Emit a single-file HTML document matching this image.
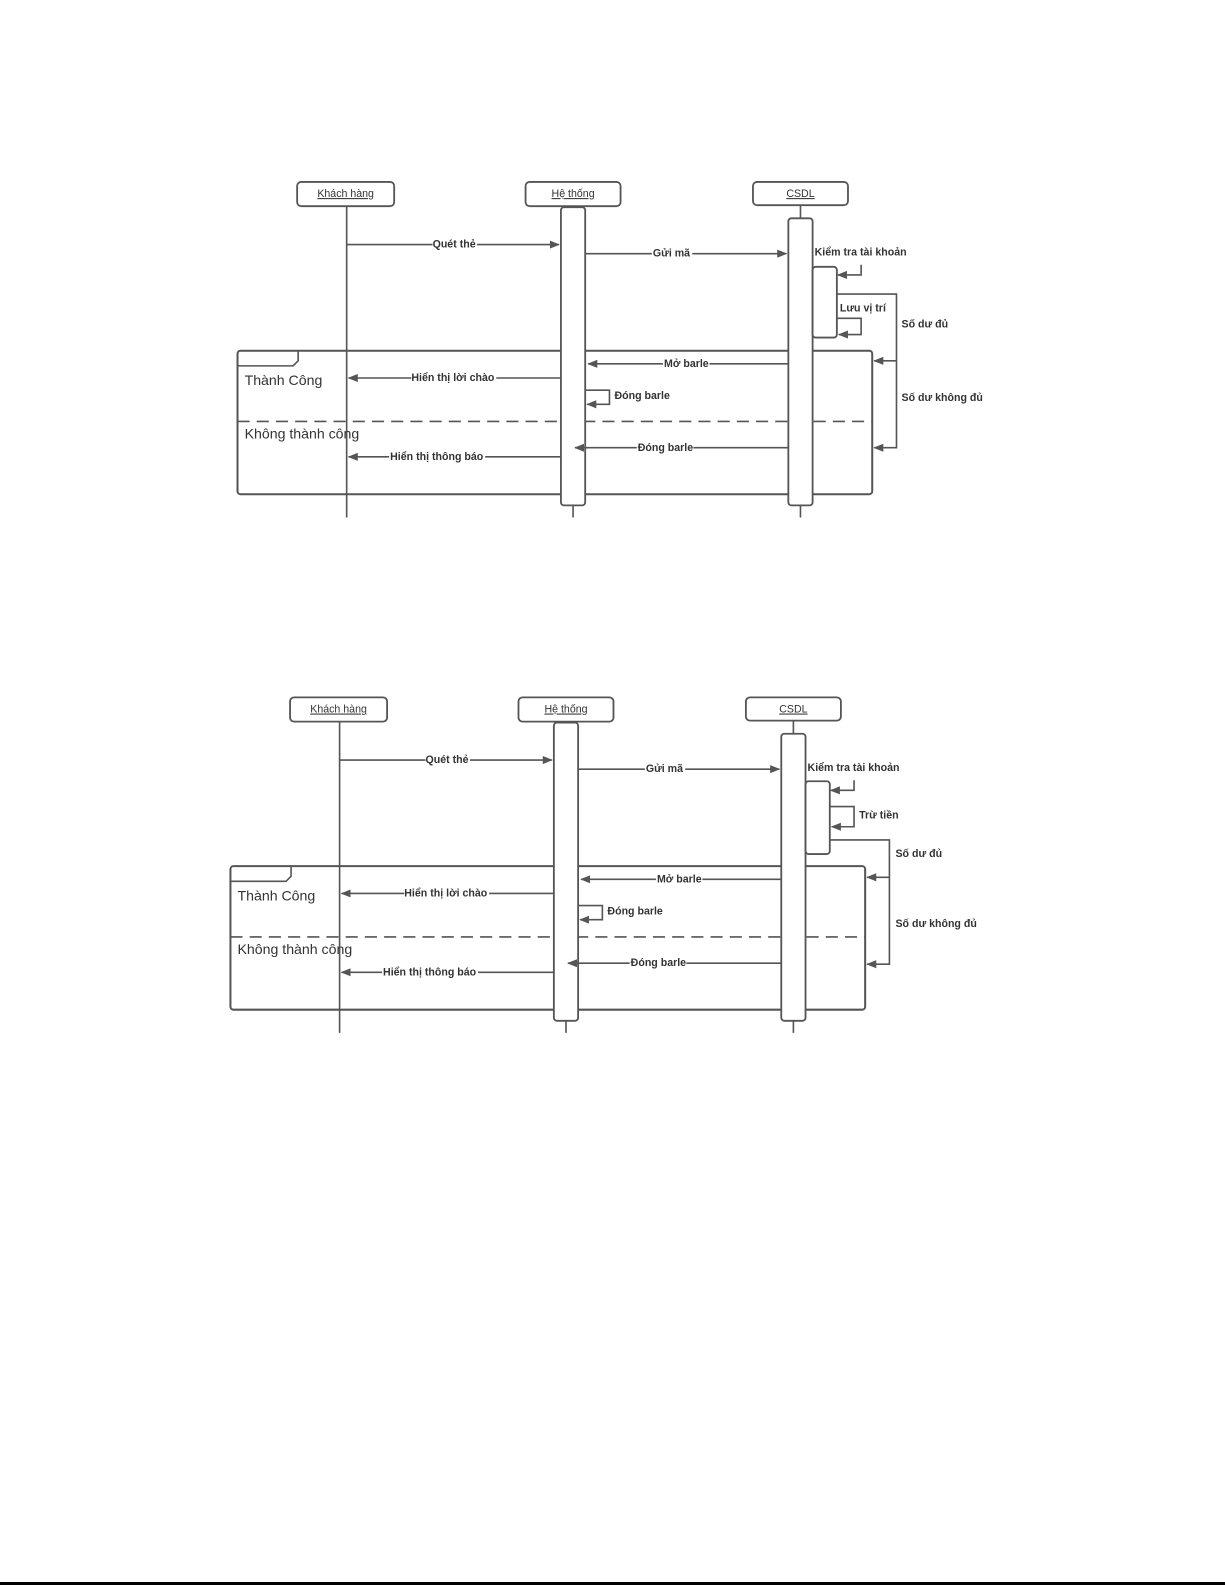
<!DOCTYPE html>
<html><head><meta charset="utf-8"><style>
html,body{margin:0;padding:0;background:#fff;}
svg{display:block;}
text{font-family:"Liberation Sans",sans-serif;fill:#333;}
.b{font-weight:bold;font-size:10.5px;}
</style></head><body>
<svg width="1225" height="1585" viewBox="0 0 1225 1585" xmlns="http://www.w3.org/2000/svg">
<defs>
<marker id="a" markerWidth="10" markerHeight="8" refX="9" refY="4" orient="auto" markerUnits="userSpaceOnUse">
<path d="M0,0 L10,4 L0,8 z" fill="#555"/></marker>
<g id="base" stroke="#555" stroke-width="1.6" fill="none">
  <line x1="343" y1="204" x2="343" y2="512"/>
  <line x1="567" y1="204" x2="567" y2="512"/>
  <line x1="792" y1="203" x2="792" y2="512"/>
  <rect x="235" y="347" width="628" height="142" rx="3" fill="none" stroke-width="2"/>
  <path d="M235,362 L290,362 L295,357 L295,347" stroke-width="1.6"/>
  <line x1="235" y1="417" x2="863" y2="417" stroke-dasharray="12,7" stroke-width="1.6"/>
  <rect x="294" y="180" width="96" height="24" rx="4" fill="#fff" stroke-width="1.8"/>
  <rect x="520" y="180" width="94" height="24" rx="4" fill="#fff" stroke-width="1.8"/>
  <rect x="745" y="180" width="94" height="23" rx="4" fill="#fff" stroke-width="1.8"/>
  <rect x="555" y="205" width="24" height="295" rx="3" fill="#fff" stroke-width="1.8"/>
  <rect x="780" y="216" width="24" height="284" rx="3" fill="#fff" stroke-width="1.8"/>
  <line x1="343" y1="242" x2="553" y2="242" marker-end="url(#a)"/>
  <line x1="579" y1="251" x2="778" y2="251" marker-end="url(#a)"/>
  <line x1="780" y1="360" x2="582" y2="360" marker-end="url(#a)"/>
  <line x1="555" y1="374" x2="345" y2="374" marker-end="url(#a)"/>
  <path d="M579,386 L603,386 L603,400 L581,400" marker-end="url(#a)"/>
  <line x1="780" y1="443" x2="569" y2="443" marker-end="url(#a)"/>
  <line x1="555" y1="452" x2="345" y2="452" marker-end="url(#a)"/>
  <path d="M852,262 L852,272 L829,272" marker-end="url(#a)"/>
</g>
<g id="labels">
  <text x="342" y="195" font-size="10.5" text-anchor="middle" text-decoration="underline">Khách hàng</text>
  <text x="567" y="195" font-size="10.5" text-anchor="middle" text-decoration="underline">Hệ thống</text>
  <text x="792" y="195" font-size="10.5" text-anchor="middle" text-decoration="underline">CSDL</text>
  <rect x="428" y="236" width="44" height="10" fill="#fff"/>
  <text class="b" x="428" y="245">Quét thẻ</text>
  <rect x="645" y="245" width="40" height="10" fill="#fff"/>
  <text class="b" x="646" y="254">Gửi mã</text>
  <rect x="656" y="354" width="46" height="10" fill="#fff"/>
  <text class="b" x="657" y="363">Mở barle</text>
  <rect x="407" y="368" width="84" height="10" fill="#fff"/>
  <text class="b" x="407" y="377">Hiển thị lời chào</text>
  <text class="b" x="608" y="395">Đóng barle</text>
  <rect x="630" y="437" width="56" height="10" fill="#fff"/>
  <text class="b" x="631" y="446">Đóng barle</text>
  <rect x="385" y="446" width="95" height="10" fill="#fff"/>
  <text class="b" x="386" y="455">Hiển thị thông báo</text>
  <text class="b" x="806" y="253">Kiểm tra tài khoản</text>
  <text x="242" y="381" font-size="14">Thành Công</text>
  <text x="242" y="434" font-size="14">Không thành công</text>
</g>
</defs>

<g transform="scale(1.0107)">
<use href="#base"/>
<use href="#labels"/>
<g stroke="#555" stroke-width="1.6" fill="none">
  <rect x="804" y="264" width="24" height="70" rx="3" fill="#fff" stroke-width="1.8"/>
  <path d="M828,315 L852,315 L852,331 L830,331" marker-end="url(#a)"/>
  <path d="M828,291 L887,291 L887,443 L865,443" marker-end="url(#a)"/>
  <line x1="887" y1="357" x2="865" y2="357" marker-end="url(#a)"/>
</g>
<text class="b" x="831" y="308">Lưu vị trí</text>
<text class="b" x="892" y="324">Số dư đủ</text>
<text class="b" x="892" y="397">Số dư không đủ</text>

<g transform="translate(-7,510)">
<use href="#base"/>
<use href="#labels"/>
<g stroke="#555" stroke-width="1.6" fill="none">
  <rect x="804" y="263" width="24" height="72" rx="3" fill="#fff" stroke-width="1.8"/>
  <path d="M828,288 L852,288 L852,308 L830,308" marker-end="url(#a)"/>
  <path d="M828,321 L887,321 L887,444 L865,444" marker-end="url(#a)"/>
  <line x1="887" y1="358" x2="865" y2="358" marker-end="url(#a)"/>
</g>
<text class="b" x="857" y="300">Trừ tiền</text>
<text class="b" x="893" y="338">Số dư đủ</text>
<text class="b" x="893" y="407">Số dư không đủ</text>
</g>
</g>

<rect x="0" y="1582" width="1225" height="3" fill="#000"/>
</svg>
</body></html>
